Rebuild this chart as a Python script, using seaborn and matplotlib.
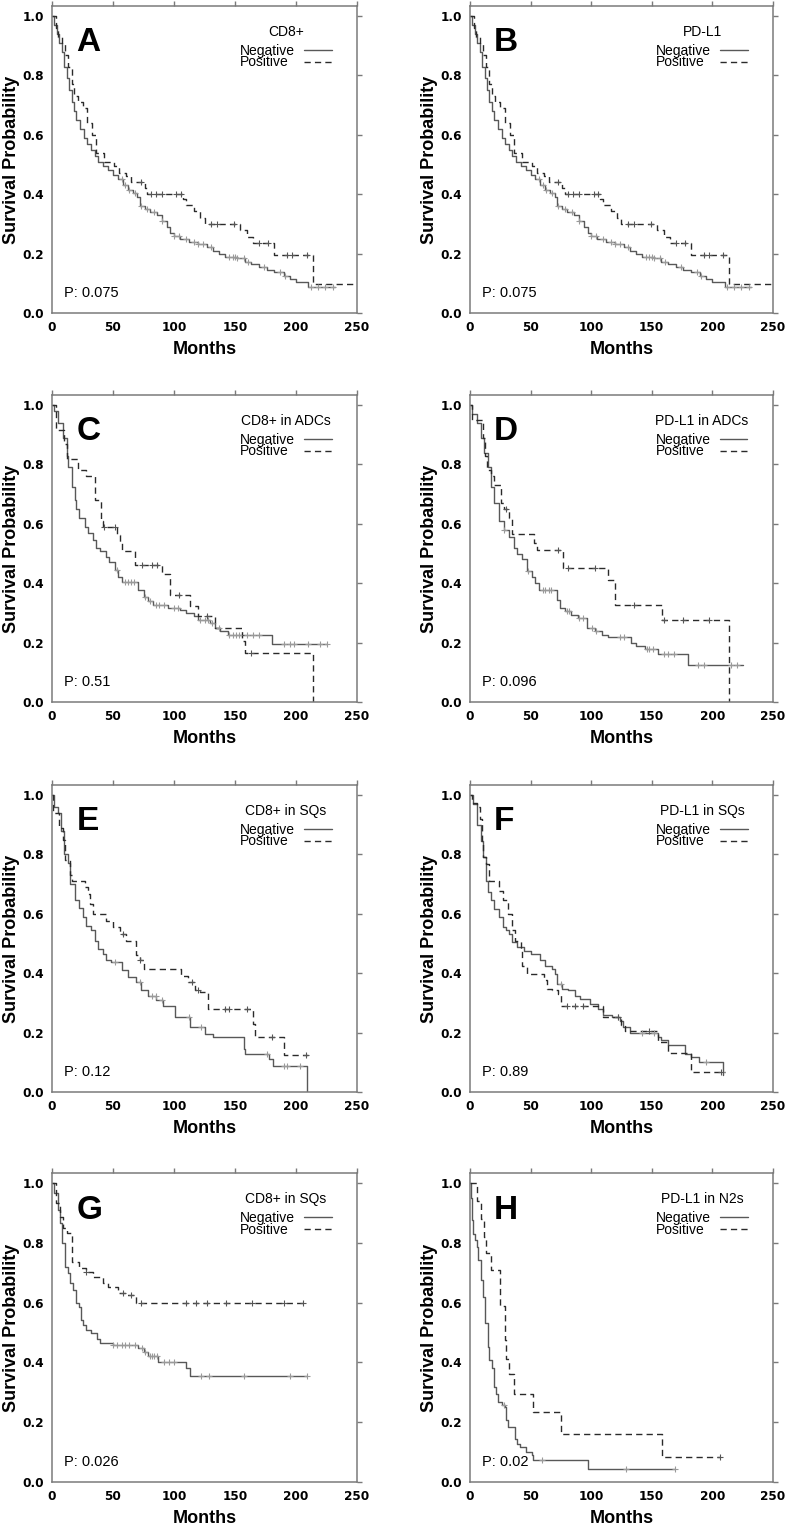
import numpy as np
import pandas as pd
import matplotlib
matplotlib.use('Agg')
import matplotlib.pyplot as plt
import seaborn as sns

# Kaplan-Meier step points (months, survival) and censor times
a_neg_t = [0, 2, 4, 6, 8, 10, 12, 14, 16, 18, 20, 23, 26, 29, 32, 35, 38, 42, 46, 50, 54, 58, 62, 66, 70, 72, 76, 80, 86, 90,
           94, 97, 100, 105, 112, 120, 127, 132, 137, 142, 152, 158, 163, 170, 176, 182, 190, 195, 200, 210, 232]
a_neg_s = [1.0, 0.97, 0.94, 0.91, 0.88, 0.83, 0.79, 0.75, 0.71, 0.68, 0.65, 0.62, 0.59, 0.57, 0.55, 0.53, 0.51, 0.495, 0.48,
           0.465, 0.45, 0.43, 0.415, 0.405, 0.39, 0.36, 0.35, 0.34, 0.33, 0.31, 0.29, 0.27, 0.26, 0.25, 0.24, 0.232, 0.222,
           0.21, 0.2, 0.19, 0.185, 0.172, 0.165, 0.155, 0.145, 0.138, 0.125, 0.115, 0.105, 0.087, 0.087]
a_neg_c = [57, 60, 63, 68, 73, 78, 84, 90, 100, 104, 110, 116, 120, 124, 130, 145, 148, 150, 152, 157, 161, 174, 187, 191,
           212, 218, 224, 230]
a_pos_t = [0, 3, 5, 8, 11, 13, 16, 18, 21, 25, 29, 33, 36, 43, 51, 55, 61, 65, 76, 78, 107, 110, 116, 121, 125, 154, 160,
           165, 182, 214, 250]
a_pos_s = [1.0, 0.96, 0.93, 0.905, 0.87, 0.83, 0.77, 0.73, 0.71, 0.69, 0.64, 0.60, 0.54, 0.51, 0.495, 0.47, 0.46, 0.44,
           0.42, 0.40, 0.385, 0.365, 0.345, 0.32, 0.30, 0.28, 0.256, 0.235, 0.195, 0.098, 0.098]
a_pos_c = [73, 81, 85, 90, 102, 106, 130, 135, 149, 170, 177, 193, 197, 209]

# panel B shows the same curves as panel A
b_neg_t, b_neg_s, b_neg_c = a_neg_t, a_neg_s, a_neg_c
b_pos_t, b_pos_s, b_pos_c = a_pos_t, a_pos_s, a_pos_c

c_neg_t = [0, 2, 5, 9, 12, 13, 16, 18.5, 20, 22.5, 27, 29.5, 33.5, 36, 39, 44.5, 47, 51.5, 54, 57, 70.5, 75, 79, 83, 95,
           105, 110, 116, 120, 129.5, 134, 138, 144.5, 180, 225]
c_neg_s = [1.0, 0.98, 0.94, 0.89, 0.83, 0.79, 0.725, 0.68, 0.65, 0.62, 0.59, 0.57, 0.546, 0.52, 0.51, 0.49, 0.47, 0.445,
           0.42, 0.405, 0.378, 0.355, 0.34, 0.327, 0.316, 0.31, 0.30, 0.288, 0.277, 0.266, 0.249, 0.238, 0.226, 0.195, 0.195]
c_neg_c = [53, 60, 62, 65, 67, 76, 80, 85, 88, 92, 100, 103, 121, 125, 128, 131, 137, 145, 148, 151, 153, 160, 165, 170,
           190, 195, 198, 210, 220, 225]
c_pos_t = [0, 3.5, 10, 12, 21, 28, 35, 40.5, 42, 53, 55.5, 57, 68, 90, 97, 113.5, 120, 133.5, 155.5, 158, 214]
c_pos_s = [1.0, 0.916, 0.87, 0.82, 0.78, 0.76, 0.68, 0.61, 0.59, 0.563, 0.535, 0.51, 0.46, 0.43, 0.36, 0.325, 0.288,
           0.249, 0.204, 0.165, 0.0]
c_pos_c = [43, 52, 74, 82, 86, 104, 127, 163]

d_neg_t = [0, 2, 6, 9, 11.5, 14.5, 17, 20, 24, 28, 32, 36, 39, 43, 47, 51, 54, 57, 72, 74.5, 78.5, 83, 89.5, 96.5, 103,
           109, 114, 133, 137, 144, 155, 180, 225]
d_neg_s = [1.0, 0.97, 0.94, 0.89, 0.84, 0.79, 0.725, 0.67, 0.61, 0.58, 0.557, 0.52, 0.50, 0.48, 0.44, 0.42, 0.40, 0.378,
           0.344, 0.316, 0.305, 0.294, 0.283, 0.249, 0.238, 0.226, 0.22, 0.198, 0.187, 0.18, 0.16, 0.126, 0.126]
d_neg_c = [28, 48, 60, 62, 65, 67, 80, 82, 90, 93, 101, 104, 124, 127, 146, 148, 151, 160, 163, 168, 188, 193, 215, 220]
d_pos_t = [0, 2, 10.5, 12.5, 14, 17, 20, 25.5, 28, 32, 35, 52.5, 55.5, 77, 114, 120, 158.5, 214]
d_pos_s = [1.0, 0.95, 0.89, 0.83, 0.78, 0.76, 0.73, 0.67, 0.65, 0.62, 0.567, 0.535, 0.513, 0.45, 0.41, 0.327, 0.277, 0.0]
d_pos_c = [30, 73, 81, 103, 135, 160, 176, 197]

e_neg_t = [0, 2, 5, 7.5, 10, 13, 14.5, 18.5, 22.5, 25.5, 28, 32, 35, 38, 42, 44.5, 48.5, 57, 62.5, 69, 73, 79, 85.5, 91,
           100.5, 113, 125.5, 132, 157, 158, 177.5, 181.5, 209]
e_neg_s = [1.0, 0.96, 0.94, 0.88, 0.80, 0.77, 0.70, 0.645, 0.62, 0.59, 0.56, 0.544, 0.51, 0.48, 0.465, 0.443, 0.437, 0.41,
           0.387, 0.37, 0.342, 0.325, 0.31, 0.29, 0.252, 0.218, 0.196, 0.185, 0.146, 0.129, 0.112, 0.087, 0.0]
e_neg_c = [52, 72, 82, 85, 90, 112, 122, 176, 190, 193, 203]
e_pos_t = [0, 1, 6, 9, 10.5, 14.5, 16, 27, 29.5, 31, 33.5, 44.5, 50, 55.5, 61, 69, 72, 75, 106, 111.5, 117, 121, 128,
           165, 166, 190, 210]
e_pos_s = [1.0, 0.94, 0.89, 0.85, 0.78, 0.73, 0.712, 0.69, 0.667, 0.633, 0.60, 0.577, 0.555, 0.532, 0.51, 0.46, 0.443,
           0.415, 0.392, 0.37, 0.342, 0.336, 0.28, 0.23, 0.185, 0.123, 0.123]
e_pos_c = [58, 72, 115, 120, 142, 145, 160, 180, 208]

f_neg_t = [0, 2.5, 5.5, 9, 11, 13.5, 14.5, 17, 20, 24, 27, 29.5, 32, 35, 39, 44.5, 50, 58, 62, 68, 70.5, 72, 76, 81, 87,
           91, 99, 106, 110, 117, 124, 126.5, 132, 155, 158, 163, 177, 182.5, 189, 208.5, 209]
f_neg_s = [1.0, 0.97, 0.90, 0.846, 0.79, 0.71, 0.673, 0.645, 0.617, 0.59, 0.555, 0.544, 0.532, 0.504, 0.49, 0.476, 0.465,
           0.443, 0.426, 0.415, 0.398, 0.364, 0.347, 0.342, 0.325, 0.314, 0.297, 0.28, 0.258, 0.252, 0.24, 0.218, 0.20,
           0.185, 0.174, 0.157, 0.129, 0.118, 0.10, 0.056, 0.056]
f_neg_c = [75, 122, 142, 152, 195]
f_pos_t = [0, 1.5, 6, 8, 10, 11, 13.5, 16, 24, 27, 31, 35, 37.5, 42, 43, 47, 61, 63.5, 68, 73, 75, 110, 125, 128, 155,
           163, 182.5, 210]
f_pos_s = [1.0, 0.975, 0.96, 0.92, 0.846, 0.79, 0.767, 0.712, 0.678, 0.645, 0.60, 0.544, 0.51, 0.476, 0.426, 0.398,
           0.376, 0.347, 0.342, 0.33, 0.29, 0.252, 0.224, 0.207, 0.168, 0.13, 0.067, 0.067]
f_pos_c = [80, 87, 93, 122, 148, 207]

g_neg_t = [0, 2, 5, 6.5, 8.5, 10.5, 13, 14.5, 17, 20, 22.5, 24, 25.5, 28, 32, 36.5, 39, 50, 70.5, 75, 79, 87, 110,
           113.5, 209]
g_neg_s = [1.0, 0.966, 0.91, 0.866, 0.80, 0.72, 0.70, 0.665, 0.642, 0.598, 0.587, 0.542, 0.525, 0.508, 0.497, 0.48,
           0.464, 0.458, 0.447, 0.436, 0.421, 0.402, 0.38, 0.354, 0.354]
g_neg_c = [50, 53, 57, 60, 63, 68, 74, 76, 80, 82, 84, 86, 92, 96, 100, 122, 129, 157, 195, 209]
g_pos_t = [0, 3.5, 6.5, 9, 12, 16, 22.5, 28, 33.5, 42, 46, 54, 61, 69, 209]
g_pos_s = [1.0, 0.933, 0.888, 0.849, 0.832, 0.737, 0.715, 0.704, 0.687, 0.665, 0.654, 0.631, 0.626, 0.598, 0.598]
g_pos_c = [28, 58, 65, 73, 110, 118, 127, 143, 164, 190, 206]

h_neg_t = [0, 1, 1.5, 2.5, 4.5, 5.5, 7, 9, 10.5, 12.5, 14.5, 16, 18, 19.5, 21.5, 23.5, 26, 29, 30, 31, 37, 39, 41, 46,
           51.5, 52, 97, 169]
h_neg_s = [1.0, 0.95, 0.877, 0.83, 0.81, 0.787, 0.743, 0.676, 0.62, 0.531, 0.453, 0.408, 0.38, 0.318, 0.296, 0.268,
           0.257, 0.25, 0.207, 0.184, 0.145, 0.128, 0.117, 0.10, 0.09, 0.073, 0.045, 0.045]
h_neg_c = [28, 59, 129, 169]
h_pos_t = [0, 5.5, 9, 11.5, 13.5, 17, 25, 29, 30, 32, 36, 52, 75, 158.5, 206]
h_pos_s = [1.0, 0.94, 0.88, 0.82, 0.765, 0.71, 0.59, 0.475, 0.413, 0.363, 0.296, 0.235, 0.162, 0.084, 0.084]
h_pos_c = [206]

letters = ['A', 'B', 'C', 'D', 'E', 'F', 'G', 'H']
titles = ['CD8+', 'PD-L1', 'CD8+ in ADCs', 'PD-L1 in ADCs', 'CD8+ in SQs', 'PD-L1 in SQs', 'CD8+ in SQs', 'PD-L1 in N2s']
pvalues = ['0.075', '0.075', '0.51', '0.096', '0.12', '0.89', '0.026', '0.02']

curves = [
    (a_neg_t, a_neg_s, a_neg_c, a_pos_t, a_pos_s, a_pos_c),
    (b_neg_t, b_neg_s, b_neg_c, b_pos_t, b_pos_s, b_pos_c),
    (c_neg_t, c_neg_s, c_neg_c, c_pos_t, c_pos_s, c_pos_c),
    (d_neg_t, d_neg_s, d_neg_c, d_pos_t, d_pos_s, d_pos_c),
    (e_neg_t, e_neg_s, e_neg_c, e_pos_t, e_pos_s, e_pos_c),
    (f_neg_t, f_neg_s, f_neg_c, f_pos_t, f_pos_s, f_pos_c),
    (g_neg_t, g_neg_s, g_neg_c, g_pos_t, g_pos_s, g_pos_c),
    (h_neg_t, h_neg_s, h_neg_c, h_pos_t, h_pos_s, h_pos_c),
]

NEG_COLOR = '#585858'
POS_COLOR = '#2a2a2a'
FRAME = '#7a7a7a'


def step_value(t, s, c):
    # survival level of a step curve at the censor times
    idx = np.searchsorted(np.asarray(t), np.asarray(c), side='right') - 1
    return np.asarray(s)[idx]


def km_panel(fig, ax, letter, title, pval, neg_t, neg_s, neg_c, pos_t, pos_s, pos_c):
    df = pd.concat([
        pd.DataFrame({'Months': neg_t, 'Survival': neg_s, 'Group': 'Negative'}),
        pd.DataFrame({'Months': pos_t, 'Survival': pos_s, 'Group': 'Positive'}),
    ], ignore_index=True)
    sns.lineplot(data=df, x='Months', y='Survival', hue='Group', style='Group',
                 hue_order=['Negative', 'Positive'], style_order=['Negative', 'Positive'],
                 palette={'Negative': NEG_COLOR, 'Positive': POS_COLOR},
                 dashes={'Negative': '', 'Positive': (4.5, 3)},
                 estimator=None, sort=False, drawstyle='steps-post',
                 linewidth=1.0, legend=False, ax=ax)
    handles = list(ax.lines[:2])

    ax.plot(neg_c, step_value(neg_t, neg_s, neg_c), linestyle='none', marker='+',
            ms=5, mew=0.8, color='#9a9a9a')
    ax.plot(pos_c, step_value(pos_t, pos_s, pos_c), linestyle='none', marker='+',
            ms=5, mew=0.8, color='#555555')

    ax.set_xlim(0, 250)
    ax.set_ylim(0, 1.034)
    ax.set_xticks(range(0, 251, 50))
    ax.set_yticks(np.arange(0, 1.01, 0.2))
    ax.set_yticklabels(['%.1f' % v for v in np.arange(0, 1.01, 0.2)])
    ax.tick_params(axis='both', direction='out', length=3.5, width=1, color=FRAME,
                   top=True, right=True, labeltop=False, labelright=False,
                   labelsize=8.7, pad=2, labelcolor='black')
    for lbl in ax.get_xticklabels() + ax.get_yticklabels():
        lbl.set_fontfamily('DejaVu Sans')
        lbl.set_fontweight('bold')
    for sp in ax.spines.values():
        sp.set_visible(True)
        sp.set_color(FRAME)
        sp.set_linewidth(1.1)

    ax.set_xlabel('Months', fontsize=13, fontweight='bold', labelpad=5)
    ax.set_ylabel('Survival Probability', fontsize=13, fontweight='bold', labelpad=2)

    ax.text(20, 0.91, letter, fontsize=24, fontweight='bold', va='center', ha='left')
    ax.text(10, 0.067, 'P: ' + pval, fontsize=10.5, va='center', ha='left')

    leg = ax.legend(handles, ['Negative', 'Positive'], title=title, loc='upper right',
                    bbox_to_anchor=(0.918, 0.937), frameon=False, markerfirst=False,
                    fontsize=10, title_fontsize=10, handlelength=2.0,
                    handletextpad=0.65, labelspacing=-0.15, borderpad=0, borderaxespad=0)
    leg._legend_box.sep = 3
    # keep the labels left-aligned while handles stay right-aligned
    renderer = fig.canvas.get_renderer()
    widths = [t.get_window_extent(renderer).width for t in leg.get_texts()]
    rows = leg._legend_handle_box.get_children()[0].get_children()
    max_w = max(widths)
    for row, w in zip(rows, widths):
        row.sep = row.sep + (max_w - w) * 72.0 / fig.dpi


sns.set_style('white')
plt.rcParams['font.family'] = ['Liberation Sans', 'DejaVu Sans']
plt.rcParams['text.color'] = 'black'
plt.rcParams['axes.labelcolor'] = 'black'

fig = plt.figure(figsize=(7.89, 15.24), dpi=100)
W, H = 789.0, 1524.0
col_left = [52, 470]
col_width = [305, 303]
row_top = [6, 395, 785, 1173]
row_bottom = [313, 702, 1092, 1482]

for i in range(8):
    r, c = divmod(i, 2)
    ax = fig.add_axes([col_left[c] / W, 1 - row_bottom[r] / H, col_width[c] / W,
                       (row_bottom[r] - row_top[r]) / H])
    km_panel(fig, ax, letters[i], titles[i], pvalues[i], *curves[i])

fig.savefig('out.png', dpi=100)
